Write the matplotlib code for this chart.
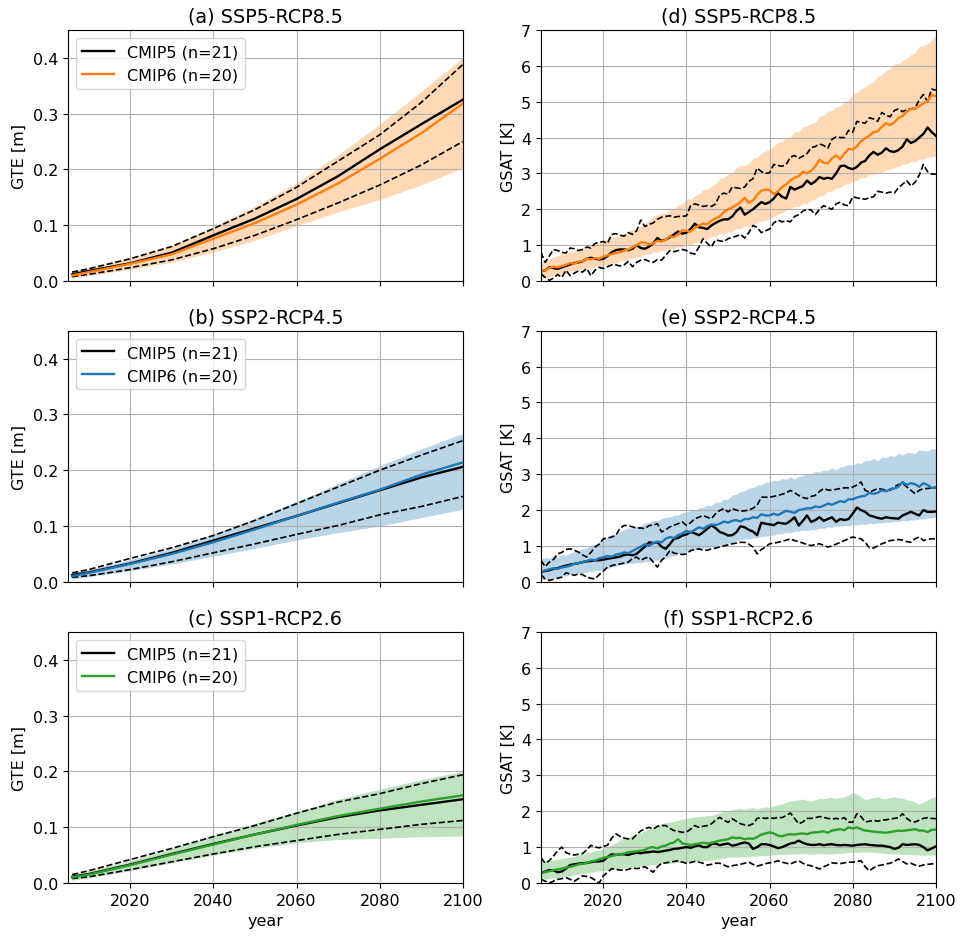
import numpy as np
import matplotlib
matplotlib.use("Agg")
import matplotlib.pyplot as plt

plt.rcParams['font.family'] = ['DejaVu Sans']
plt.rcParams['font.size'] = 11.5

# ---------------- GTE (global thermal expansion) data ----------------
years_gte = [2006, 2010, 2020, 2030, 2040, 2050, 2060, 2070, 2080, 2090, 2100]

# (a) SSP5-RCP8.5
gte_a_c5 = [.012, .018, .032, .051, .082, .112, .147, .188, .236, .281, .325]
gte_a_c5_hi = [.016, .022, .040, .062, .094, .128, .168, .215, .262, .320, .388]
gte_a_c5_lo = [.008, .012, .024, .038, .058, .082, .110, .140, .172, .208, .250]
gte_a_c6 = [.010, .016, .031, .048, .076, .104, .137, .175, .219, .265, .318]
gte_a_c6_hi = [.017, .023, .041, .064, .097, .134, .176, .226, .281, .340, .400]
gte_a_c6_lo = [.005, .010, .021, .034, .052, .073, .099, .124, .146, .172, .203]

# (b) SSP2-RCP4.5
gte_b_c5 = [.012, .017, .033, .052, .074, .096, .118, .141, .164, .187, .206]
gte_b_c5_hi = [.016, .022, .042, .061, .083, .110, .140, .170, .200, .227, .253]
gte_b_c5_lo = [.008, .011, .022, .036, .052, .068, .085, .101, .120, .135, .153]
gte_b_c6 = [.010, .016, .032, .050, .071, .094, .118, .142, .165, .192, .214]
gte_b_c6_hi = [.016, .022, .040, .060, .086, .114, .144, .176, .208, .238, .266]
gte_b_c6_lo = [.005, .009, .020, .032, .046, .060, .075, .088, .100, .115, .130]

# (c) SSP1-RCP2.6
gte_c_c5 = [.011, .016, .033, .052, .070, .087, .103, .118, .130, .140, .150]
gte_c_c5_hi = [.015, .022, .042, .062, .083, .103, .125, .145, .160, .178, .194]
gte_c_c5_lo = [.008, .011, .024, .038, .052, .065, .076, .087, .096, .105, .112]
gte_c_c6 = [.010, .015, .032, .051, .069, .087, .104, .120, .133, .146, .157]
gte_c_c6_hi = [.016, .022, .040, .062, .085, .107, .128, .150, .168, .185, .200]
gte_c_c6_lo = [.005, .009, .022, .036, .050, .062, .072, .078, .080, .083, .084]

# ---------------- GSAT data (annual, 2005-2100) ----------------
years_gsat = list(range(2005, 2101))

# (d) SSP5-RCP8.5
gsat_d_c6 = [.28, .30, .36, .40, .38, .42, .45, .50, .48, .54,
             .56, .62, .60, .64, .62, .68, .72, .75, .78, .80,
             .85, .88, .94, 1.00, 1.08, 1.07, 1.02, 1.05, 1.12, 1.10,
             1.15, 1.25, 1.22, 1.30, 1.42, 1.40, 1.38, 1.48, 1.55, 1.60,
             1.58, 1.68, 1.75, 1.80, 1.92, 2.00, 2.05, 2.12, 2.20, 2.32,
             2.18, 2.25, 2.40, 2.52, 2.55, 2.54, 2.42, 2.50, 2.62, 2.70,
             2.80, 2.88, 2.92, 3.05, 3.00, 3.07, 3.20, 3.38, 3.30, 3.28,
             3.42, 3.50, 3.40, 3.55, 3.68, 3.67, 3.75, 3.90, 3.98, 4.05,
             4.15, 4.18, 4.30, 4.40, 4.35, 4.42, 4.55, 4.60, 4.72, 4.80,
             4.80, 4.88, 4.95, 5.02, 5.18, 5.16]
gsat_d_c6_hi = [.52, .58, .60, .68, .70, .76, .76, .82, .84, .90,
                .93, .98, 1.00, 1.06, 1.08, 1.16, 1.16, 1.22, 1.24, 1.30,
                1.33, 1.40, 1.43, 1.50, 1.53, 1.60, 1.68, 1.80, 1.84, 1.88,
                1.88, 2.00, 2.02, 2.12, 2.16, 2.30, 2.28, 2.38, 2.42, 2.55,
                2.56, 2.66, 2.72, 2.86, 2.88, 2.98, 3.02, 3.16, 3.22, 3.22,
                3.28, 3.42, 3.46, 3.56, 3.64, 3.68, 3.76, 3.86, 3.90, 4.00,
                4.02, 4.16, 4.16, 4.30, 4.32, 4.40, 4.42, 4.60, 4.62, 4.72,
                4.76, 4.86, 4.88, 5.00, 5.06, 5.20, 5.26, 5.36, 5.40, 5.50,
                5.56, 5.70, 5.76, 5.86, 5.92, 6.05, 6.06, 6.16, 6.20, 6.32,
                6.36, 6.55, 6.56, 6.62, 6.72, 6.85]
gsat_d_c6_lo = [.05, .10, .10, .16, .16, .22, .22, .28, .28, .33,
                .32, .38, .36, .41, .39, .44, .44, .50, .50, .56,
                .56, .62, .62, .68, .68, .75, .74, .81, .80, .86,
                .86, .92, .90, .96, .94, 1.00, 1.00, 1.07, 1.08, 1.17,
                1.16, 1.24, 1.24, 1.32, 1.30, 1.37, 1.38, 1.47, 1.46, 1.54,
                1.53, 1.60, 1.60, 1.68, 1.68, 1.74, 1.78, 1.87, 1.90, 2.00,
                2.00, 2.08, 2.08, 2.17, 2.16, 2.25, 2.28, 2.37, 2.38, 2.50,
                2.50, 2.60, 2.60, 2.70, 2.70, 2.80, 2.80, 2.88, 2.88, 2.97,
                2.96, 3.02, 3.03, 3.10, 3.10, 3.18, 3.18, 3.26, 3.26, 3.34,
                3.33, 3.40, 3.40, 3.46, 3.45, 3.49]
gsat_d_c5 = [.27, .30, .38, .36, .34, .38, .42, .46, .50, .52,
             .55, .62, .65, .62, .60, .62, .70, .80, .86, .88,
             .88, .86, .90, 1.00, .92, .90, .96, 1.05, 1.20, 1.12,
             1.15, 1.22, 1.30, 1.38, 1.32, 1.35, 1.45, 1.60, 1.50, 1.48,
             1.45, 1.55, 1.62, 1.68, 1.72, 1.72, 1.80, 1.95, 2.05, 1.85,
             1.92, 2.00, 2.10, 2.20, 2.15, 2.20, 2.30, 2.45, 2.35, 2.30,
             2.62, 2.55, 2.60, 2.65, 2.80, 2.70, 2.78, 2.90, 2.85, 2.88,
             2.85, 3.00, 3.20, 3.22, 3.15, 3.12, 3.18, 3.30, 3.35, 3.50,
             3.60, 3.52, 3.58, 3.70, 3.62, 3.60, 3.65, 3.75, 3.95, 3.85,
             3.90, 4.00, 4.10, 4.28, 4.15, 4.05]
gsat_d_c5_hi = [.80, .52, .70, .88, .85, .80, .78, .92, .90, .85,
                .88, .95, .92, 1.05, 1.08, 1.10, 1.05, 1.30, 1.32, 1.28,
                1.25, 1.35, 1.30, 1.40, 1.70, 1.52, 1.58, 1.62, 1.72, 1.78,
                1.80, 1.82, 1.78, 1.80, 1.80, 1.82, 2.10, 2.15, 2.12, 2.08,
                2.10, 2.08, 2.15, 2.40, 2.45, 2.42, 2.62, 2.60, 2.58, 2.62,
                2.78, 2.85, 3.15, 3.05, 3.00, 3.02, 3.25, 3.22, 3.20, 3.25,
                3.45, 3.50, 3.42, 3.48, 3.55, 3.72, 3.75, 3.82, 3.78, 3.70,
                3.95, 4.02, 4.00, 4.00, 4.20, 4.15, 4.45, 4.42, 4.40, 4.55,
                4.52, 4.45, 4.70, 4.62, 4.58, 4.75, 4.80, 4.72, 4.78, 4.80,
                4.82, 5.05, 5.20, 5.00, 5.35, 5.32]
gsat_d_c5_lo = [.20, .10, .02, .08, .18, .10, .30, .15, .22, .28,
                .25, .35, .15, .30, .38, .35, .40, .45, .45, .42,
                .45, .55, .40, .52, .58, .60, .55, .52, .60, .58,
                .72, .85, .82, .85, .88, .85, .78, .75, .95, 1.18,
                1.05, .95, 1.15, 1.12, 1.10, 1.18, 1.22, 1.25, 1.30, 1.20,
                1.35, 1.55, 1.50, 1.35, 1.40, 1.45, 1.62, 1.70, 1.65, 1.68,
                1.65, 1.80, 1.85, 1.95, 2.00, 1.98, 1.85, 2.00, 2.10, 2.05,
                2.00, 2.15, 2.20, 2.12, 2.10, 2.35, 2.32, 2.30, 2.28, 2.32,
                2.35, 2.50, 2.48, 2.45, 2.48, 2.45, 2.60, 2.70, 2.80, 2.65,
                2.75, 2.95, 3.25, 3.05, 2.98, 2.98]

# (e) SSP2-RCP4.5
gsat_e_c6 = [.28, .32, .35, .38, .36, .40, .42, .45, .50, .52,
             .55, .58, .62, .60, .66, .68, .72, .70, .76, .78,
             .82, .80, .86, .92, .98, 1.05, 1.00, 1.08, 1.12, 1.10,
             1.20, 1.25, 1.22, 1.30, 1.35, 1.42, 1.38, 1.45, 1.52, 1.48,
             1.55, 1.60, 1.58, 1.62, 1.68, 1.65, 1.70, 1.72, 1.68, 1.75,
             1.75, 1.80, 1.78, 1.88, 1.85, 1.85, 1.90, 1.86, 1.92, 1.98,
             1.95, 1.92, 2.00, 2.02, 2.05, 2.05, 2.10, 2.08, 2.12, 2.18,
             2.15, 2.20, 2.25, 2.22, 2.30, 2.30, 2.35, 2.38, 2.40, 2.48,
             2.45, 2.48, 2.55, 2.52, 2.58, 2.60, 2.65, 2.78, 2.70, 2.75,
             2.72, 2.65, 2.75, 2.70, 2.62, 2.62]
gsat_e_c6_hi = [.64, .68, .66, .72, .70, .76, .74, .80, .84, .86,
                .92, .95, 1.02, 1.04, 1.12, 1.20, 1.24, 1.32, 1.33, 1.42,
                1.45, 1.50, 1.50, 1.56, 1.57, 1.64, 1.65, 1.72, 1.70, 1.76,
                1.80, 1.80, 1.86, 1.86, 1.93, 1.94, 2.00, 1.98, 2.06, 2.08,
                2.14, 2.12, 2.22, 2.22, 2.30, 2.30, 2.42, 2.44, 2.52, 2.54,
                2.62, 2.62, 2.70, 2.70, 2.78, 2.78, 2.84, 2.82, 2.88, 2.86,
                2.92, 2.86, 2.94, 2.96, 3.02, 3.00, 3.08, 3.06, 3.12, 3.10,
                3.18, 3.12, 3.20, 3.22, 3.28, 3.24, 3.32, 3.30, 3.38, 3.38,
                3.44, 3.38, 3.48, 3.46, 3.52, 3.50, 3.58, 3.54, 3.60, 3.60,
                3.58, 3.68, 3.66, 3.64, 3.72, 3.70]
gsat_e_c6_lo = [.05, .08, .08, .12, .12, .16, .16, .20, .20, .24,
                .24, .28, .28, .32, .32, .36, .37, .42, .43, .48,
                .49, .52, .51, .54, .53, .56, .56, .60, .60, .64,
                .64, .70, .72, .78, .80, .86, .86, .90, .90, .94,
                .94, .98, .98, 1.02, 1.02, 1.07, 1.09, 1.15, 1.16, 1.20,
                1.19, 1.23, 1.23, 1.27, 1.27, 1.30, 1.30, 1.34, 1.34, 1.38,
                1.37, 1.41, 1.41, 1.44, 1.43, 1.46, 1.45, 1.49, 1.49, 1.53,
                1.52, 1.55, 1.54, 1.57, 1.56, 1.59, 1.58, 1.61, 1.60, 1.63,
                1.62, 1.65, 1.64, 1.67, 1.66, 1.69, 1.68, 1.71, 1.70, 1.73,
                1.72, 1.75, 1.75, 1.78, 1.78, 1.80]
gsat_e_c5 = [.28, .30, .32, .36, .38, .42, .45, .48, .50, .52,
             .55, .57, .58, .60, .60, .62, .64, .66, .68, .70,
             .75, .76, .74, .78, .88, .98, 1.10, 1.08, 1.10, .98,
             .92, 1.05, 1.20, 1.22, 1.29, 1.32, 1.39, 1.35, 1.30, 1.38,
             1.48, 1.57, 1.50, 1.39, 1.35, 1.29, 1.30, 1.38, 1.55, 1.52,
             1.45, 1.40, 1.30, 1.65, 1.62, 1.60, 1.58, 1.65, 1.63, 1.62,
             1.70, 1.80, 1.57, 1.70, 1.85, 1.67, 1.72, 1.80, 1.70, 1.75,
             1.80, 1.67, 1.75, 1.72, 1.75, 1.90, 2.07, 2.00, 1.95, 1.85,
             1.82, 1.78, 1.76, 1.80, 1.78, 1.77, 1.76, 1.85, 1.90, 1.95,
             1.90, 1.85, 2.00, 1.95, 1.95, 1.96]
gsat_e_c5_hi = [.60, .42, .55, .62, .78, .82, .90, .92, .88, .83,
                .75, .69, .82, .97, 1.05, 1.20, 1.22, 1.25, 1.29, 1.50,
                1.57, 1.57, 1.53, 1.50, 1.50, 1.48, 1.57, 1.58, 1.62, 1.39,
                1.45, 1.53, 1.58, 1.62, 1.67, 1.57, 1.65, 1.76, 1.80, 1.85,
                1.80, 1.76, 1.90, 1.99, 2.04, 1.95, 2.04, 2.00, 1.97, 1.98,
                2.00, 2.05, 2.13, 2.36, 2.36, 2.36, 2.38, 2.41, 2.44, 2.48,
                2.55, 2.48, 2.41, 2.35, 2.32, 2.38, 2.41, 2.52, 2.60, 2.56,
                2.55, 2.58, 2.60, 2.62, 2.62, 2.64, 2.70, 2.78, 2.55, 2.50,
                2.55, 2.60, 2.58, 2.56, 2.55, 2.65, 2.71, 2.74, 2.65, 2.55,
                2.46, 2.55, 2.60, 2.60, 2.62, 2.64]
gsat_e_c5_lo = [.20, .08, .04, .07, .10, .13, .25, .22, .18, .22,
                .20, .13, .10, .08, .20, .30, .41, .45, .48, .50,
                .52, .55, .65, .69, .60, .66, .69, .55, .41, .60,
                .70, .87, .80, .78, .76, .78, .87, .90, .92, .88,
                .88, .92, .94, .97, 1.00, 1.03, 1.06, 1.08, 1.10, 1.10,
                1.05, .97, .78, .90, .97, 1.06, 1.08, 1.10, 1.13, 1.16,
                1.20, 1.15, 1.12, 1.08, 1.04, 1.01, 1.04, 1.06, 1.02, .97,
                1.00, 1.05, 1.10, 1.15, 1.20, 1.25, 1.22, 1.20, 1.10, .95,
                .94, 1.00, 1.06, 1.10, 1.15, 1.16, 1.18, 1.16, 1.12, 1.10,
                1.20, 1.25, 1.15, 1.18, 1.20, 1.20]

# (f) SSP1-RCP2.6
gsat_f_c6 = [.28, .30, .33, .36, .38, .40, .43, .45, .48, .52,
             .53, .56, .60, .62, .66, .70, .72, .75, .78, .80,
             .82, .86, .87, .88, .90, .92, .98, 1.00, .96, 1.02,
             1.04, 1.10, 1.13, 1.22, 1.10, 1.08, 1.06, 1.08, 1.10, 1.12,
             1.10, 1.12, 1.15, 1.18, 1.20, 1.22, 1.27, 1.25, 1.26, 1.22,
             1.24, 1.23, 1.28, 1.35, 1.38, 1.41, 1.38, 1.32, 1.30, 1.34,
             1.36, 1.35, 1.37, 1.38, 1.36, 1.40, 1.41, 1.42, 1.44, 1.40,
             1.46, 1.48, 1.50, 1.47, 1.55, 1.52, 1.55, 1.50, 1.46, 1.45,
             1.43, 1.42, 1.41, 1.40, 1.42, 1.44, 1.46, 1.45, 1.47, 1.48,
             1.50, 1.46, 1.46, 1.42, 1.48, 1.49]
gsat_f_c6_hi = [.58, .60, .62, .64, .66, .68, .70, .72, .74, .78,
                .80, .84, .86, .90, .92, .95, 1.00, 1.06, 1.12, 1.20,
                1.25, 1.28, 1.32, 1.36, 1.40, 1.46, 1.50, 1.55, 1.60, 1.65,
                1.68, 1.70, 1.72, 1.75, 1.78, 1.79, 1.82, 1.84, 1.85, 1.86,
                1.88, 1.88, 1.92, 1.95, 2.00, 2.02, 2.05, 2.06, 2.08, 2.05,
                2.08, 2.10, 2.06, 2.10, 2.12, 2.10, 2.15, 2.18, 2.20, 2.25,
                2.28, 2.30, 2.32, 2.34, 2.30, 2.28, 2.32, 2.36, 2.35, 2.38,
                2.38, 2.36, 2.38, 2.40, 2.45, 2.52, 2.48, 2.40, 2.32, 2.35,
                2.38, 2.40, 2.36, 2.35, 2.38, 2.40, 2.38, 2.36, 2.32, 2.30,
                2.25, 2.20, 2.25, 2.32, 2.38, 2.40]
gsat_f_c6_lo = [.10, .11, .12, .14, .15, .17, .19, .20, .22, .24,
                .26, .28, .30, .32, .34, .35, .36, .37, .38, .40,
                .42, .44, .45, .46, .47, .48, .50, .51, .52, .53,
                .54, .55, .56, .57, .58, .58, .59, .60, .61, .62,
                .63, .64, .66, .68, .70, .72, .72, .73, .73, .74,
                .74, .75, .75, .76, .76, .77, .78, .79, .80, .80,
                .81, .81, .81, .82, .81, .80, .81, .82, .81, .81,
                .81, .82, .83, .84, .85, .86, .85, .86, .86, .86,
                .85, .84, .83, .82, .82, .81, .81, .80, .79, .79,
                .78, .78, .77, .78, .78, .78]
gsat_f_c5 = [.28, .32, .36, .35, .30, .32, .40, .50, .52, .54,
             .55, .56, .58, .60, .60, .62, .72, .80, .78, .80,
             .80, .78, .82, .84, .83, .85, .86, .88, .86, .88,
             .90, .92, .95, .96, .98, 1.00, .98, 1.02, 1.05, 1.00,
             1.00, 1.08, 1.10, 1.05, 1.08, 1.10, 1.04, 1.06, 1.10, 1.13,
             1.10, .95, 1.00, 1.08, 1.08, 1.06, 1.02, .97, 1.00, 1.05,
             1.10, 1.12, 1.18, 1.12, 1.08, 1.06, 1.06, 1.08, 1.05, 1.07,
             1.08, 1.06, 1.05, 1.06, 1.05, 1.04, 1.06, 1.07, 1.08, 1.06,
             1.05, 1.04, 1.04, 1.02, 1.00, .95, .98, 1.08, 1.06, 1.07,
             1.08, 1.06, 1.00, .91, .96, 1.02]
gsat_f_c5_hi = [.70, .55, .62, .75, .90, 1.00, .85, .80, .78, .80,
                .82, .92, 1.05, 1.00, .98, 1.02, 1.05, 1.25, 1.37, 1.30,
                1.25, 1.23, 1.23, 1.35, 1.45, 1.51, 1.55, 1.50, 1.58, 1.60,
                1.60, 1.52, 1.46, 1.44, 1.41, 1.42, 1.50, 1.60, 1.55, 1.58,
                1.60, 1.65, 1.75, 1.83, 1.75, 1.69, 1.79, 1.72, 1.65, 1.62,
                1.60, 1.65, 1.80, 1.82, 1.80, 1.82, 1.80, 1.83, 1.82, 1.88,
                1.95, 1.80, 1.65, 1.70, 1.80, 1.80, 1.82, 1.85, 1.83, 1.80,
                1.78, 1.80, 1.78, 1.82, 1.70, 1.69, 1.93, 1.85, 1.70, 1.72,
                1.75, 1.72, 1.75, 1.76, 1.78, 1.80, 1.82, 1.93, 1.80, 1.72,
                1.70, 1.75, 1.80, 1.82, 1.80, 1.79]
gsat_f_c5_lo = [.10, .05, .00, .05, .10, .12, .15, .10, .05, .12,
                .20, .18, .15, .08, .00, .20, .30, .40, .38, .36,
                .35, .38, .42, .40, .42, .45, .38, .30, .45, .55,
                .56, .58, .60, .62, .58, .55, .57, .60, .58, .55,
                .50, .52, .55, .55, .50, .45, .48, .50, .52, .55,
                .58, .52, .47, .50, .54, .56, .58, .62, .58, .55,
                .53, .58, .62, .55, .50, .48, .44, .39, .45, .50,
                .56, .55, .54, .56, .58, .58, .60, .62, .45, .34,
                .42, .48, .50, .53, .55, .60, .67, .60, .53, .55,
                .50, .47, .50, .52, .53, .55]

titles_left = ['(a) SSP5-RCP8.5', '(b) SSP2-RCP4.5', '(c) SSP1-RCP2.6']
titles_right = ['(d) SSP5-RCP8.5', '(e) SSP2-RCP4.5', '(f) SSP1-RCP2.6']
colors = ['tab:orange', 'tab:blue', 'tab:green']
label5 = 'CMIP5 (n=21)'
label6 = 'CMIP6 (n=20)'

gte_sets = [
    (gte_a_c5, gte_a_c5_lo, gte_a_c5_hi, gte_a_c6, gte_a_c6_lo, gte_a_c6_hi),
    (gte_b_c5, gte_b_c5_lo, gte_b_c5_hi, gte_b_c6, gte_b_c6_lo, gte_b_c6_hi),
    (gte_c_c5, gte_c_c5_lo, gte_c_c5_hi, gte_c_c6, gte_c_c6_lo, gte_c_c6_hi),
]
gsat_sets = [
    (gsat_d_c5, gsat_d_c5_lo, gsat_d_c5_hi, gsat_d_c6, gsat_d_c6_lo, gsat_d_c6_hi),
    (gsat_e_c5, gsat_e_c5_lo, gsat_e_c5_hi, gsat_e_c6, gsat_e_c6_lo, gsat_e_c6_hi),
    (gsat_f_c5, gsat_f_c5_lo, gsat_f_c5_hi, gsat_f_c6, gsat_f_c6_lo, gsat_f_c6_hi),
]

fig = plt.figure(figsize=(9.63, 9.37), dpi=100)
left_x, right_x = 0.0706, 0.5618
w, h = 0.410, 0.268
bottoms = [0.699, 0.378, 0.0566]
xticks = [2020, 2040, 2060, 2080, 2100]


def draw(ax, yrs, data, color, legend):
    c5, c5lo, c5hi, c6, c6lo, c6hi = data
    ax.fill_between(yrs, c6lo, c6hi, color=color, alpha=0.3, lw=0)
    ax.plot(yrs, c5hi, 'k--', lw=1.2)
    ax.plot(yrs, c5lo, 'k--', lw=1.2)
    ax.plot(yrs, c5, color='k', lw=1.7, label=label5)
    ax.plot(yrs, c6, color=color, lw=1.7, label=label6)
    ax.set_xlim(2005, 2100)
    ax.set_xticks(xticks)
    ax.grid(True)
    if legend:
        ax.legend(loc='upper left')


for i in range(3):
    axl = fig.add_axes([left_x, bottoms[i], w, h])
    draw(axl, years_gte, gte_sets[i], colors[i], True)
    axl.set_ylim(0, 0.45)
    axl.set_yticks([0.0, 0.1, 0.2, 0.3, 0.4])
    axl.set_ylabel('GTE [m]')
    axl.set_title(titles_left[i])

    axr = fig.add_axes([right_x, bottoms[i], w, h])
    draw(axr, years_gsat, gsat_sets[i], colors[i], False)
    axr.set_ylim(0, 7)
    axr.set_yticks(range(0, 8))
    axr.set_ylabel('GSAT [K]')
    axr.set_title(titles_right[i])

    if i < 2:
        axl.set_xticklabels([])
        axr.set_xticklabels([])
    else:
        axl.set_xlabel('year')
        axr.set_xlabel('year')

fig.savefig('out.png', dpi=100)
